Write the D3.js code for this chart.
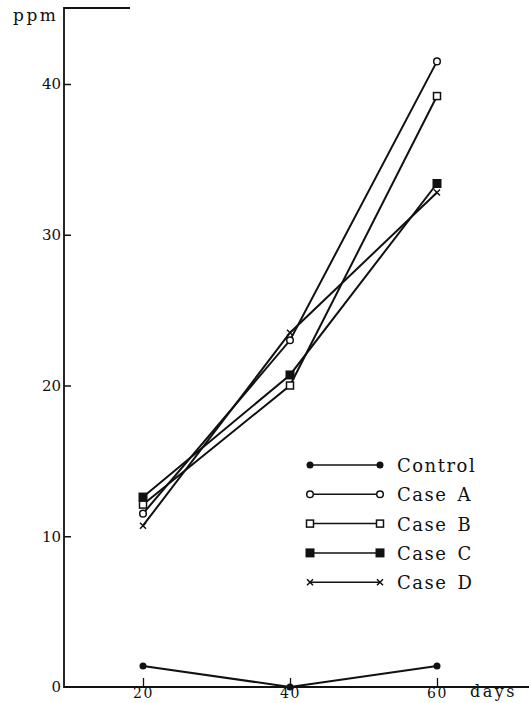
<!DOCTYPE html>
<html>
<head>
<meta charset="utf-8">
<script src="https://cdn.jsdelivr.net/npm/d3@7/dist/d3.min.js"></script>
<style>
  html, body { margin: 0; padding: 0; background: #fff; }
  svg { display: block; }
  text { font-family: "DejaVu Serif", "Liberation Serif", serif; fill: #111; }
</style>
</head>
<body>
<svg id="chart" width="529" height="703"></svg>
<script>
// ---- data ----
const days = [20, 40, 60];
const seriesNames = ["Control", "Case A", "Case B", "Case C", "Case D"];
const markerTypes = ["dot", "circle", "square", "filledSquare", "cross"];
const control = [1.4, 0.0, 1.4];
const caseA = [11.5, 23.0, 41.5];
const caseB = [12.1, 20.0, 39.2];
const caseC = [12.6, 20.7, 33.4];
const caseD = [10.7, 23.5, 32.8];
const yTicks = [0, 10, 20, 30, 40];
const xTicks = [20, 40, 60];
const yLabel = "ppm";
const xLabel = "days";

const seriesValues = [control, caseA, caseB, caseC, caseD];

const svg = d3.select("#chart");
const W = 529;

const x = d3.scaleLinear().domain([20, 60]).range([143, 437]);
const y = d3.scaleLinear().domain([0, 40]).range([687, 84]);
const axisX = 64;     // pixel of y axis
const topY = 8;

const ink = "#111";

// frame: y axis line and top stub
svg.append("path")
  .attr("d", `M${130},${topY}H${axisX}V${y(0)}H${W}`)
  .attr("fill", "none").attr("stroke", ink).attr("stroke-width", 1.8);

// y axis ticks
const yAxis = d3.axisLeft(y).tickValues(yTicks).tickSize(-7).tickPadding(3).tickFormat(d3.format("d"));
const gy = svg.append("g").attr("transform", `translate(${axisX},0)`).call(yAxis);
gy.select(".domain").remove();
gy.selectAll(".tick line").attr("stroke", ink).attr("stroke-width", 1.5);
gy.selectAll(".tick").filter(d => d === 0).select("line").remove();
gy.selectAll(".tick text").style("font-size", "15px").attr("fill", ink).attr("font-family", "DejaVu Serif, serif");

// x axis ticks
const xAxis = d3.axisBottom(x).tickValues(xTicks).tickSize(-9).tickPadding(1).tickFormat(d3.format("d"));
const gx = svg.append("g").attr("transform", `translate(0,${y(0)})`).call(xAxis);
gx.select(".domain").remove();
gx.selectAll(".tick line").attr("stroke", ink).attr("stroke-width", 1.3);
gx.selectAll(".tick text").style("font-size", "14px").style("letter-spacing", "1.5px").attr("fill", ink).attr("font-family", "DejaVu Serif, serif");

// axis labels
svg.append("text").attr("x", 13).attr("y", 21).text(yLabel)
  .style("font-size", "17px").style("letter-spacing", "2.5px");
svg.append("text").attr("x", 470).attr("y", 697).text(xLabel)
  .style("font-size", "16px").style("letter-spacing", "2.5px");

// lines
const line = d3.line().x((d, i) => x(days[i])).y(d => y(d));
seriesValues.forEach((vals, si) => {
  svg.append("path").datum(vals).attr("d", line)
    .attr("fill", "none").attr("stroke", ink).attr("stroke-width", 2);
});

function drawMarker(g, type, cx, cy) {
  if (type === "dot") {
    g.append("circle").attr("cx", cx).attr("cy", cy).attr("r", 3.5).attr("fill", ink);
  } else if (type === "circle") {
    g.append("circle").attr("cx", cx).attr("cy", cy).attr("r", 3.3)
      .attr("fill", "#fff").attr("stroke", ink).attr("stroke-width", 1.5);
  } else if (type === "square") {
    g.append("rect").attr("x", cx - 3.5).attr("y", cy - 3.5).attr("width", 7).attr("height", 7)
      .attr("fill", "#fff").attr("stroke", ink).attr("stroke-width", 1.5);
  } else if (type === "filledSquare") {
    g.append("rect").attr("x", cx - 4.5).attr("y", cy - 4.5).attr("width", 9).attr("height", 9)
      .attr("fill", ink);
  } else if (type === "cross") {
    const s = 3;
    g.append("path").attr("d", `M${cx - s},${cy - s}L${cx + s},${cy + s}M${cx - s},${cy + s}L${cx + s},${cy - s}`)
      .attr("stroke", ink).attr("stroke-width", 1.5).attr("fill", "none");
  }
}

// markers
const gm = svg.append("g");
seriesValues.forEach((vals, si) => {
  vals.forEach((v, i) => drawMarker(gm, markerTypes[si], x(days[i]), y(v)));
});

// legend
const lg = svg.append("g");
const legX1 = 310, legX2 = 380, legText = 397, legY0 = 465, legStep = 29.3;
seriesNames.forEach((name, i) => {
  const yy = legY0 + i * legStep;
  lg.append("line").attr("x1", legX1).attr("x2", legX2).attr("y1", yy).attr("y2", yy)
    .attr("stroke", ink).attr("stroke-width", 1.5);
  drawMarker(lg, markerTypes[i], legX1, yy);
  drawMarker(lg, markerTypes[i], legX2, yy);
  lg.append("text").attr("x", legText).attr("y", yy + 7).text(name)
    .style("font-size", "18px").style("letter-spacing", "1.5px").style("word-spacing", "3px");
});
</script>
</body>
</html>
